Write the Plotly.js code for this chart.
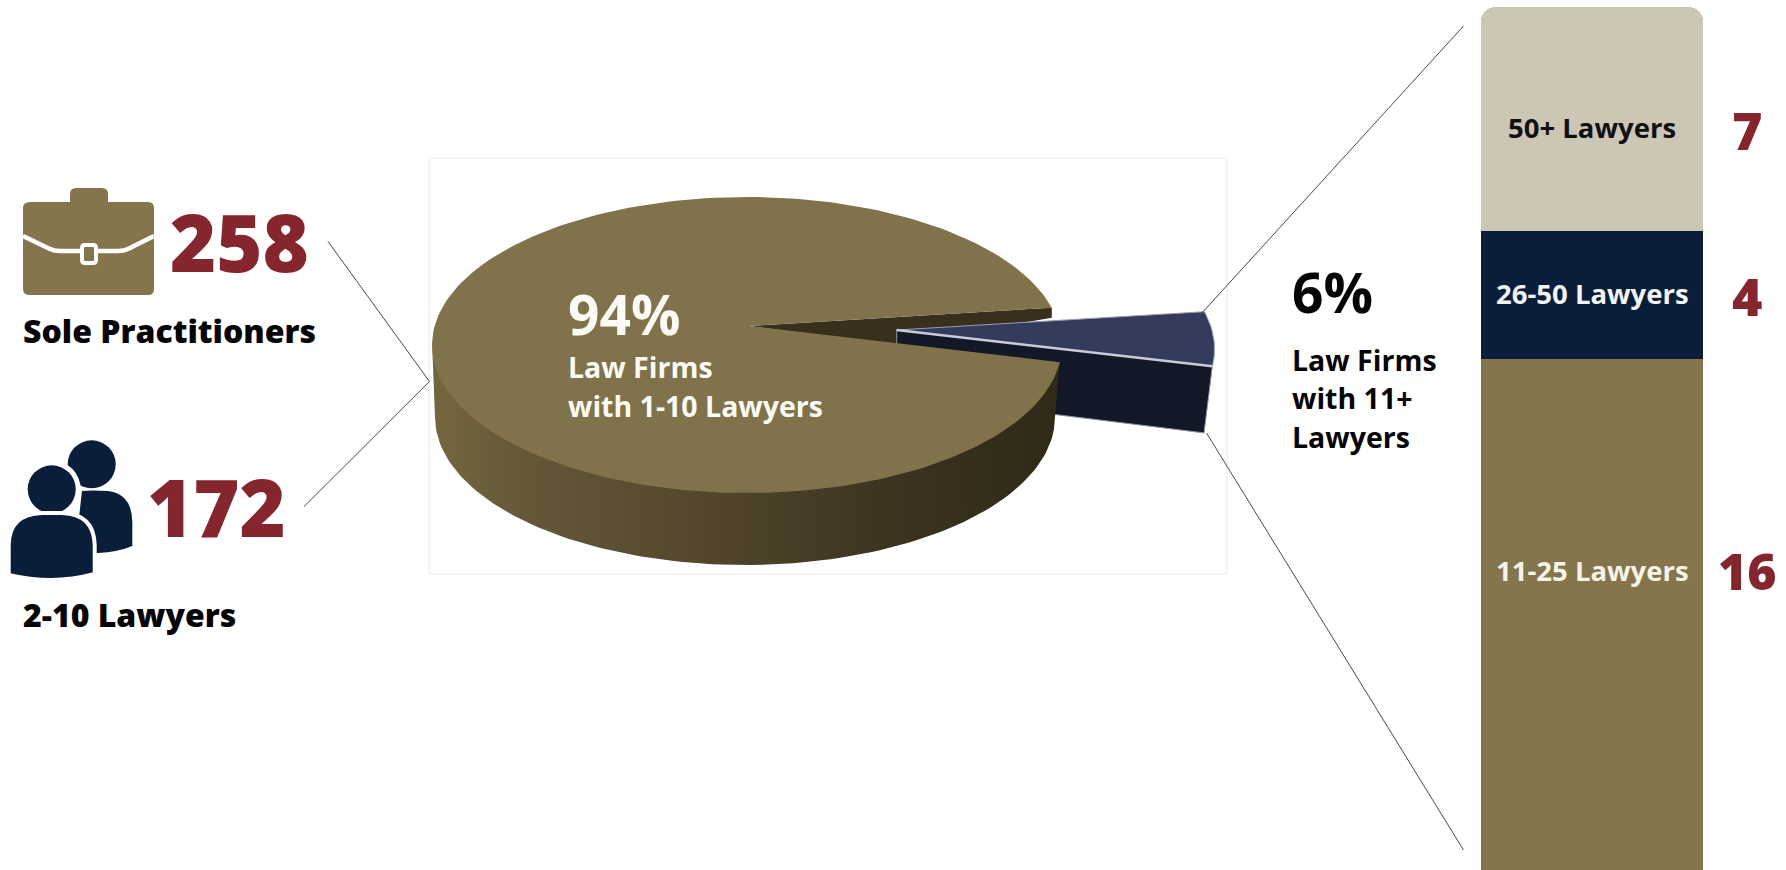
<!DOCTYPE html>
<html>
<head>
<meta charset="utf-8">
<title>Law firms by size</title>
<script src="https://cdn.plot.ly/plotly-3.0.1.min.js"></script>
<style>html,body{margin:0;padding:0;background:#fff;overflow:hidden}</style>
</head>
<body>
<div id="chart" style="width:1786px;height:870px"></div>
<script>
// Firm counts
const smallFirmGroups = ['Sole Practitioners', '2-10 Lawyers'];
const smallFirmCounts = [258, 172];
const largeFirmGroups = ['11-25 Lawyers', '26-50 Lawyers', '50+ Lawyers'];
const largeFirmCounts = [16, 4, 7];
const barCategory = ['Law Firms with 11+ Lawyers'];

// Colours
const OLIVE = '#85754d', PIE_TOP = '#80734b', OLIVE_DARK = '#38301c', NAVY = '#0a1e39', SAND = '#cbc7b4';
const MAROON = '#85262e', INK = '#050505', SLICE_TOP = '#333a5c', SLICE_WALL = '#121825';

const sum = a => a.reduce((s, v) => s + v, 0);
const total = sum(smallFirmCounts) + sum(largeFirmCounts);
const wedgeSweep = 360 * sum(largeFirmCounts) / total;

// Page-space geometry of the tilted pie
const top3d = {cx: 747, cy: 345, rx: 315, ry: 148};
const base3d = {cx: 745, cy: 417, rx: 310, ry: 148};
const hub = {x: 749, y: 326};
const wedgeFrom = -14.6, wedgeTo = wedgeFrom + wedgeSweep;
const shift = {x: 152.5, y: 4};
const sliceHub = {x: 896.7, y: 330};
const wallDrop = {x: -8.3, y: 66.7};

function arc(e, a0, a1, dx = 0, dy = 0) {
  const n = Math.max(2, Math.ceil(Math.abs(a1 - a0) / 1.5));
  const pts = [];
  for (let i = 0; i <= n; i++) {
    const t = (a0 + (a1 - a0) * i / n) * Math.PI / 180;
    pts.push([e.cx + dx + e.rx * Math.cos(t), e.cy + dy + e.ry * Math.sin(t)]);
  }
  return pts;
}
function poly(pts, style) {
  const closed = pts.concat([pts[0]]);
  return Object.assign({
    x: closed.map(p => p[0]), y: closed.map(p => p[1]),
    type: 'scatter', mode: 'lines', fill: 'toself',
    line: {width: 0}, hoverinfo: 'skip', showlegend: false, xaxis: 'x', yaxis: 'y'
  }, style);
}

// Inner wall of the gap left by the pulled-out wedge
const gapStart = arc(top3d, wedgeFrom, wedgeFrom)[0];
const innerWall = poly([[hub.x, hub.y], gapStart, [gapStart[0], gapStart[1] + 10], [sliceHub.x, sliceHub.y + 15]],
  {fillcolor: OLIVE_DARK});

// Pulled-out wedge
const sliceArc = arc(top3d, wedgeFrom, wedgeTo, shift.x, shift.y);
const sliceEnd = sliceArc[sliceArc.length - 1];
const sliceEndLow = [sliceEnd[0] + wallDrop.x, sliceEnd[1] + wallDrop.y];
const sliceWall = poly([[sliceHub.x, sliceHub.y], sliceEnd, sliceEndLow, [sliceHub.x, sliceHub.y + 65]],
  {fillcolor: SLICE_WALL, line: {width: 1, color: '#8f95a8'}});
const sliceTop = poly([[sliceHub.x, sliceHub.y]].concat(sliceArc),
  {fillcolor: SLICE_TOP, line: {width: 1, color: '#9a9eb0'}});
const sliceEdge = {
  x: [sliceHub.x, sliceEnd[0]], y: [sliceHub.y, sliceEnd[1]], type: 'scatter', mode: 'lines',
  line: {width: 2.5, color: '#c9ccd6'}, hoverinfo: 'skip', showlegend: false, xaxis: 'x', yaxis: 'y'
};

// Curved outer wall (tucked slightly under the top face) and the top face itself
const outerWall = poly(arc(top3d, wedgeTo, 180, 0, -4).concat(arc(base3d, 180, wedgeTo - 2)), {
  fillcolor: OLIVE,
  fillgradient: {
    type: 'horizontal',
    colorscale: [[0, '#74673f'], [0.12, '#675a39'], [0.45, '#51462c'], [0.72, '#3d3420'], [1, '#2f2917']]
  }
});
const topFace = poly([[hub.x, hub.y]].concat(arc(top3d, wedgeTo, 360 + wedgeFrom)), {fillcolor: PIE_TOP});

// Stacked bar of the larger firms
const barColors = [OLIVE, NAVY, SAND];
const bars = largeFirmCounts.map((v, i) => ({
  type: 'bar', x: barCategory, y: [v], name: largeFirmGroups[i],
  marker: {color: barColors[i], line: {width: 0}},
  xaxis: 'x2', yaxis: 'y2', hoverinfo: 'skip', showlegend: false
}));

// Text
const FONT = '"Open Sans", "Noto Sans", sans-serif';
function label(text, x, y, size, color, weight, anchor = 'left') {
  return {text, x, y, xref: 'x', yref: 'y', showarrow: false, xanchor: anchor, yanchor: 'middle',
    font: {family: FONT, size, color, weight}};
}
const annotations = [
  label(String(smallFirmCounts[0]), 168, 241, 79, MAROON, 800),
  label(smallFirmGroups[0], 21, 330, 32, INK, 800),
  label(String(smallFirmCounts[1]), 145, 506, 79, MAROON, 800),
  label(smallFirmGroups[1], 21, 614, 32, INK, 800),
  label('94%', 566, 313, 55, '#fbfaf5', 700),
  label('Law Firms', 566, 367, 28.5, '#fbfaf5', 700),
  label('with 1-10 Lawyers', 566, 406, 28.5, '#fbfaf5', 700),
  label('6%', 1290, 291, 55, INK, 700),
  label('Law Firms', 1290, 360, 28.5, INK, 700),
  label('with 11+', 1290, 398, 28.5, INK, 700),
  label('Lawyers', 1290, 437, 28.5, INK, 700),
  label(largeFirmGroups[2], 1592, 127, 27.5, '#111', 700, 'center'),
  label(largeFirmGroups[1], 1592, 293, 27.5, '#f2f3f5', 700, 'center'),
  label(largeFirmGroups[0], 1592, 570, 27.5, '#f6f3e8', 700, 'center'),
  label(String(largeFirmCounts[2]), 1747, 129, 52, MAROON, 800, 'center'),
  label(String(largeFirmCounts[1]), 1747, 295, 52, MAROON, 800, 'center'),
  label(String(largeFirmCounts[0]), 1747, 571, 50, MAROON, 800, 'center')
];

// Frame, connectors and icons
function segment(x0, y0, x1, y1) {
  return {type: 'line', xref: 'x', yref: 'y', x0, y0, x1, y1, line: {color: '#4a4a4a', width: 1}};
}
function shapePath(path, fill, stroke, width) {
  return {type: 'path', xref: 'x', yref: 'y', path, fillcolor: fill,
    line: {color: stroke || fill, width: width === undefined ? 0 : width}};
}
function circle(cx, cy, r, fill) {
  return {type: 'circle', xref: 'x', yref: 'y', x0: cx - r, x1: cx + r, y0: cy - r, y1: cy + r,
    fillcolor: fill, line: {width: 0}};
}
const shapes = [
  {type: 'rect', xref: 'x', yref: 'y', x0: 429, x1: 1227, y0: 158, y1: 574, layer: 'below',
    line: {color: '#e6e6e6', width: 1}},
  segment(328, 241.5, 429.5, 381.5),
  segment(304, 506.5, 429.5, 381.5),
  segment(1201, 314, 1463.5, 26),
  segment(1206.5, 433, 1463.5, 850),
  // Briefcase
  shapePath('M70 202 L70 194 Q70 188 76 188 L102 188 Q108 188 108 194 L108 202 Z', OLIVE),
  shapePath('M30 202 L148 202 Q154 202 154 208 L154 289 Q154 295 148 295 L30 295 Q23 295 23 289 L23 208 Q23 202 30 202 Z', OLIVE),
  {type: 'path', xref: 'x', yref: 'y', path: 'M23 236 L50 249 Q54 251 60 251 L118 251 Q124 251 128 249 L154 236',
    line: {color: '#ffffff', width: 4.5}},
  shapePath('M85 245 L93 245 Q96 245 96 248 L96 260 Q96 263 93 263 L85 263 Q82 263 82 260 L82 248 Q82 245 85 245 Z', OLIVE, '#ffffff', 4),
  // Two people
  circle(91.7, 464.3, 24, NAVY),
  shapePath('M82 491 Q92 490 108 491 Q132 494 132.3 522 L132.3 546 Q118 552 98 553 L75 553 Z', NAVY),
  circle(51.7, 489.3, 29, '#ffffff'),
  circle(51.7, 489.3, 24, NAVY),
  shapePath('M8.7 575 L8.7 545 Q9 514 42 513 L62 513 Q94 514 94.7 545 L94.7 574 Q72 580 51 580 Q30 580 8.7 575 Z', NAVY, '#ffffff', 4)
];

const layout = {
  width: 1786, height: 870, autosize: false,
  margin: {l: 0, r: 0, t: 0, b: 0, pad: 0},
  paper_bgcolor: '#ffffff', plot_bgcolor: 'rgba(0,0,0,0)',
  showlegend: false, barmode: 'stack', bargap: 0, barcornerradius: 15,
  xaxis: {domain: [0, 1], range: [0, 1786], visible: false, fixedrange: true},
  yaxis: {domain: [0, 1], range: [870, 0], visible: false, fixedrange: true},
  xaxis2: {domain: [1480.7 / 1786, 1703.3 / 1786], type: 'category', range: [-0.5, 0.5],
    anchor: 'y2', visible: false, fixedrange: true},
  yaxis2: {domain: [0, 1], range: [0.03, 27.22], anchor: 'x2', visible: false, fixedrange: true},
  annotations, shapes
};

Plotly.newPlot('chart',
  [innerWall, sliceWall, sliceTop, sliceEdge, outerWall, topFace].concat(bars),
  layout, {displayModeBar: false, staticPlot: true});
</script>
</body>
</html>
